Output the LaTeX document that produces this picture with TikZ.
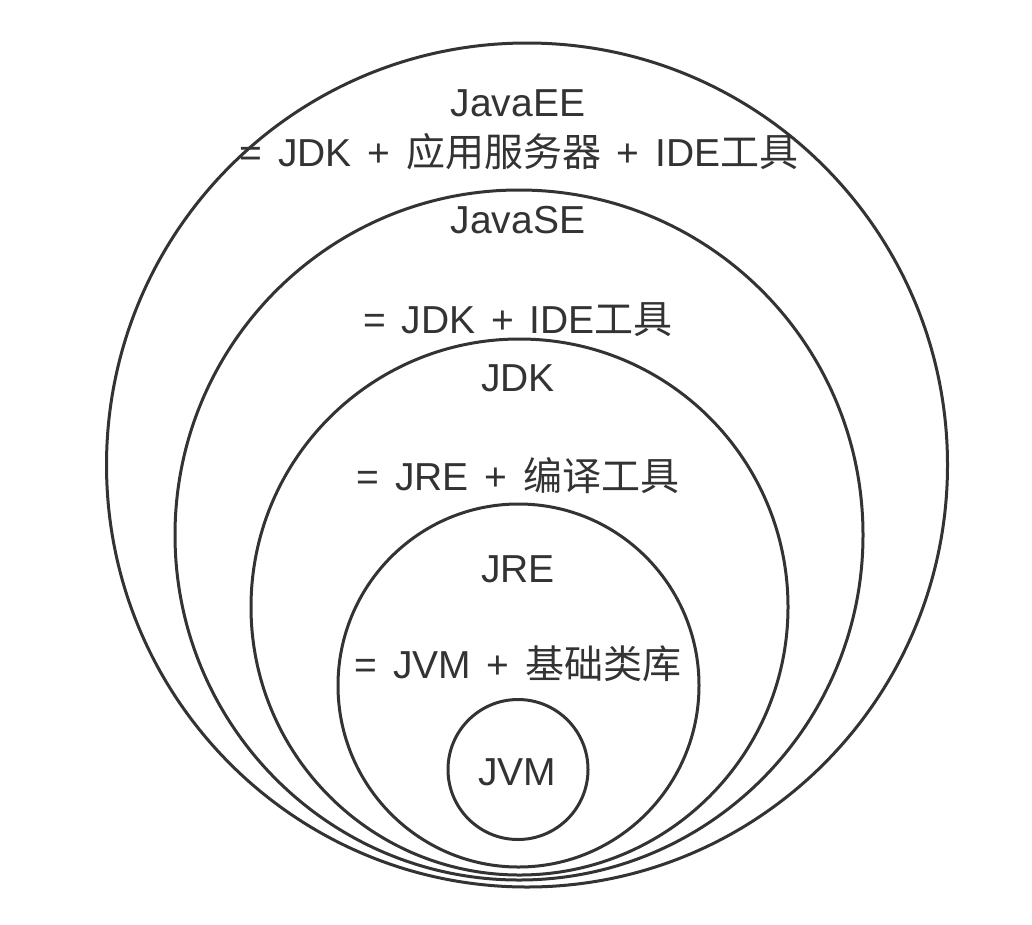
\documentclass[tikz,border=0pt]{standalone}
\usepackage{fontspec}
\setmainfont{Liberation Sans}[WordSpace=1.45]
\newfontfamily\cjk{Noto Sans CJK SC}
\usetikzlibrary{shapes.geometric}
\definecolor{ink}{HTML}{333333}
\newcommand{\zh}[1]{{\cjk #1}}
\begin{document}
\begin{tikzpicture}[x=1pt,y=-1pt,
  ring/.style={draw=ink, line width=3pt, inner sep=0pt, outer sep=0pt},
  oval/.style={ring, ellipse},
  lbl/.style={text=ink, font=\fontsize{39}{44}\selectfont, inner sep=0pt, anchor=base}]
\useasboundingbox[fill=white] (0,0) rectangle (1032,924);
% nested sets
\node[oval, minimum width=841pt, minimum height=844pt] (ee)  at (527,465) {};
\node[oval, minimum width=688pt, minimum height=690pt] (se)  at (519,535) {};
\node[oval, minimum width=537pt, minimum height=536pt] (jdk) at (519.5,607) {};
\node[oval, minimum width=361pt, minimum height=363pt] (jre) at (518.5,685.5) {};
\node[ring, circle, minimum size=140pt] (jvm) at (518,769.5) {};
% labels
\node[lbl] (tee)  at (518,116) {JavaEE};
\node[lbl] (tee2) at (519,166) {= JDK + \zh{应用服务器} + IDE\zh{工具}};
\node[lbl] (tse)  at (518,233) {JavaSE};
\node[lbl] (tse2) at (518,333) {= JDK + IDE\zh{工具}};
\node[lbl] (tjdk) at (518,391) {JDK};
\node[lbl] (tjdk2) at (518,490) {= JRE + \zh{编译工具}};
\node[lbl] (tjre) at (518,582) {JRE};
\node[lbl] (tjre2) at (518,678) {= JVM + \zh{基础类库}};
\node[lbl] (tjvm) at (517,785) {JVM};
\end{tikzpicture}
\end{document}
